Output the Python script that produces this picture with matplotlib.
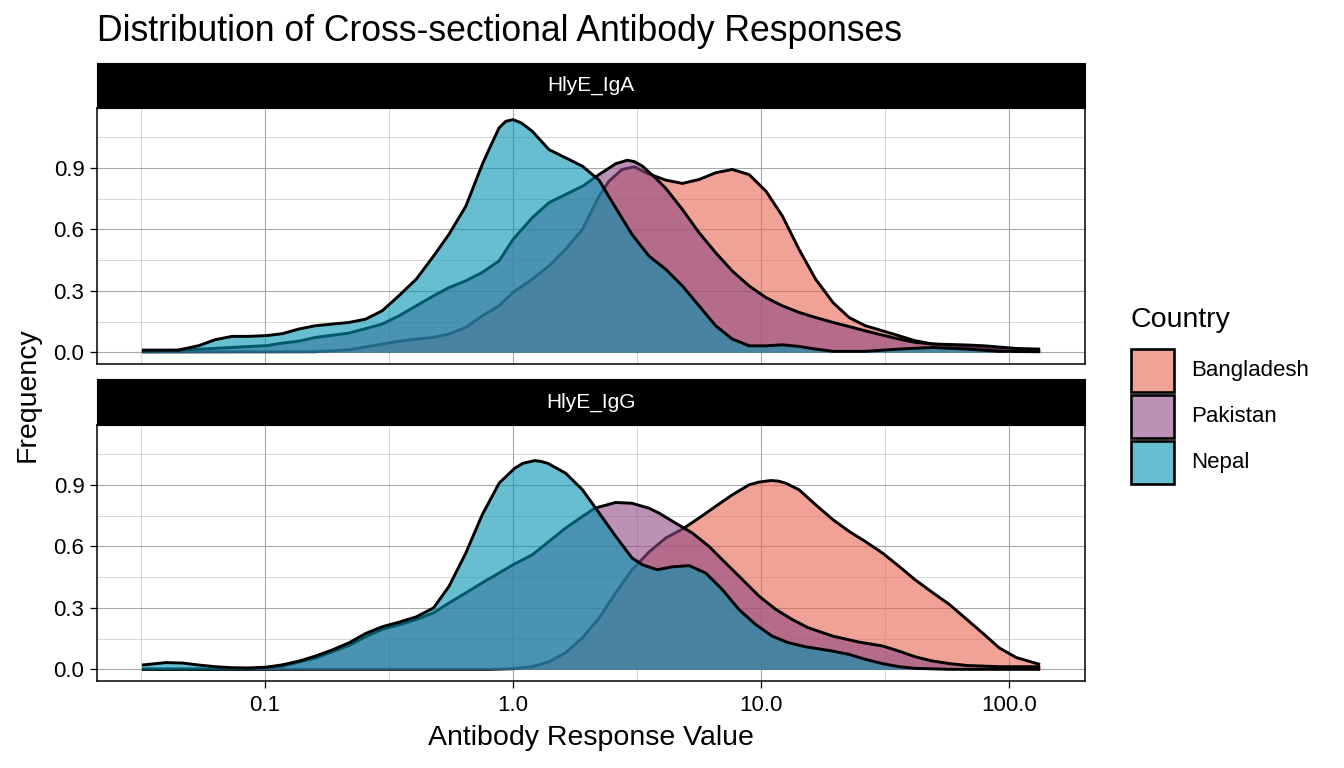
import numpy as np
import matplotlib
matplotlib.use("Agg")
import matplotlib.pyplot as plt
from matplotlib.patches import Rectangle
from matplotlib.ticker import FixedLocator, FixedFormatter, NullFormatter

plt.rcParams['font.family'] = ['Liberation Sans', 'DejaVu Sans']

# ---------------- data ----------------
countries = ["Bangladesh", "Pakistan", "Nepal"]
panels = ["HlyE_IgA", "HlyE_IgG"]
x_tick_values = [0.1, 1.0, 10.0, 100.0]
x_tick_labels = ["0.1", "1.0", "10.0", "100.0"]
y_tick_values = [0.0, 0.3, 0.6, 0.9]
y_tick_labels = ["0.0", "0.3", "0.6", "0.9"]

# HlyE_IgA  (x given as log10 of antibody response value)
iga_bangladesh_log10x = [-1.496, -0.796, -0.661, -0.527, -0.46, -0.39, -0.32, -0.258, -0.19, -0.124,
                         -0.056, 0.0, 0.078, 0.145, 0.212, 0.28, 0.347, 0.387, 0.44, 0.49,
                         0.535, 0.616, 0.683, 0.75, 0.817, 0.884, 0.952, 1.02, 1.086, 1.153,
                         1.22, 1.29, 1.355, 1.42, 1.49, 1.556, 1.62, 1.69, 1.83, 1.96, 2.125]
iga_bangladesh_density = [0.002, 0.003, 0.013, 0.04, 0.054, 0.065, 0.073, 0.089, 0.122, 0.178,
                          0.227, 0.292, 0.357, 0.421, 0.503, 0.6, 0.762, 0.835, 0.892, 0.905,
                          0.876, 0.84, 0.824, 0.843, 0.876, 0.892, 0.867, 0.786, 0.665, 0.503,
                          0.357, 0.243, 0.17, 0.13, 0.105, 0.081, 0.057, 0.041, 0.024, 0.016, 0.011]

iga_pakistan_log10x = [-1.496, -1.35, -1.132, -0.992, -0.93, -0.863, -0.796, -0.661, -0.527, -0.46,
                       -0.39, -0.32, -0.258, -0.19, -0.124, -0.056, 0.0, 0.078, 0.145, 0.212,
                       0.28, 0.347, 0.414, 0.461, 0.49, 0.522, 0.575, 0.616, 0.683, 0.75, 0.817,
                       0.884, 0.952, 1.02, 1.086, 1.153, 1.22, 1.29, 1.355, 1.42, 1.49,
                       1.556, 1.62, 1.69, 1.83, 1.9, 1.96, 2.03, 2.125]
iga_pakistan_density = [0.005, 0.01, 0.024, 0.033, 0.045, 0.055, 0.073, 0.094, 0.138, 0.178,
                        0.227, 0.276, 0.316, 0.349, 0.39, 0.446, 0.551, 0.657, 0.73, 0.77,
                        0.81, 0.867, 0.92, 0.937, 0.93, 0.908, 0.85, 0.80, 0.697, 0.584, 0.486,
                        0.397, 0.324, 0.267, 0.227, 0.195, 0.17, 0.146, 0.126, 0.105, 0.084,
                        0.065, 0.049, 0.041, 0.036, 0.032, 0.026, 0.019, 0.016]

iga_nepal_log10x = [-1.496, -1.35, -1.266, -1.2, -1.132, -1.065, -0.992, -0.93, -0.863, -0.796,
                    -0.661, -0.594, -0.527, -0.46, -0.39, -0.32, -0.258, -0.19, -0.124, -0.097,
                    -0.056, -0.029, 0.0, 0.034, 0.078, 0.145, 0.212, 0.28, 0.347, 0.414, 0.48,
                    0.548, 0.616, 0.683, 0.75, 0.817, 0.884, 0.952, 1.02, 1.086, 1.153,
                    1.22, 1.29, 1.42, 1.556, 1.69, 1.83, 1.96, 2.125]
iga_nepal_density = [0.011, 0.011, 0.033, 0.062, 0.078, 0.078, 0.082, 0.091, 0.114, 0.13,
                     0.146, 0.162, 0.203, 0.276, 0.357, 0.47, 0.576, 0.713, 0.916, 0.989,
                     1.095, 1.127, 1.135, 1.119, 1.078, 0.989, 0.949, 0.908, 0.84, 0.705, 0.575,
                     0.47, 0.405, 0.324, 0.227, 0.13, 0.065, 0.032, 0.032, 0.037, 0.029,
                     0.016, 0.005, 0.005, 0.016, 0.024, 0.016, 0.005, 0.003]

# HlyE_IgG
igg_bangladesh_log10x = [-1.496, -0.1, 0.0, 0.078, 0.145, 0.212, 0.28, 0.347, 0.414, 0.48,
                         0.548, 0.616, 0.683, 0.75, 0.817, 0.884, 0.952, 0.99, 1.04, 1.07, 1.1,
                         1.153, 1.22, 1.29, 1.355, 1.42, 1.49, 1.556, 1.62, 1.69, 1.76, 1.83,
                         1.9, 1.96, 2.03, 2.125]
igg_bangladesh_density = [0.0, 0.0, 0.003, 0.013, 0.037, 0.081, 0.154, 0.25, 0.373, 0.486,
                          0.572, 0.641, 0.684, 0.738, 0.795, 0.851, 0.9, 0.913, 0.921, 0.918, 0.908,
                          0.876, 0.803, 0.73, 0.673, 0.624, 0.567, 0.503, 0.438, 0.376, 0.316, 0.243,
                          0.17, 0.105, 0.057, 0.024]

igg_pakistan_log10x = [-1.496, -1.065, -0.93, -0.796, -0.66, -0.594, -0.527, -0.46, -0.39, -0.32,
                       -0.258, -0.19, -0.124, -0.056, 0.0, 0.078, 0.145, 0.212, 0.28, 0.33,
                       0.414, 0.48, 0.548, 0.589, 0.656, 0.723, 0.79, 0.857, 0.925, 0.992,
                       1.06, 1.126, 1.19, 1.29, 1.395, 1.49, 1.556, 1.62, 1.69, 1.76,
                       1.83, 1.96, 2.125]
igg_pakistan_density = [0.002, 0.002, 0.016, 0.055, 0.117, 0.159, 0.195, 0.217, 0.243, 0.276,
                        0.324, 0.373, 0.422, 0.47, 0.51, 0.559, 0.624, 0.689, 0.746, 0.786,
                        0.814, 0.81, 0.786, 0.762, 0.713, 0.665, 0.6, 0.519, 0.438, 0.357,
                        0.292, 0.243, 0.203, 0.162, 0.133, 0.114, 0.089, 0.062, 0.041, 0.028,
                        0.019, 0.013, 0.013]

igg_nepal_log10x = [-1.496, -1.4, -1.333, -1.266, -1.2, -1.132, -1.065, -0.992, -0.93, -0.863,
                    -0.796, -0.73, -0.66, -0.594, -0.527, -0.46, -0.39, -0.32, -0.258, -0.19,
                    -0.124, -0.056, 0.007, 0.04, 0.087, 0.11, 0.14, 0.212, 0.28, 0.347, 0.414, 0.48,
                    0.522, 0.582, 0.642, 0.71, 0.777, 0.844, 0.911, 0.978, 1.045, 1.11,
                    1.18, 1.29, 1.355, 1.42, 1.49, 1.556, 1.62, 1.76, 2.125]
igg_nepal_density = [0.021, 0.033, 0.031, 0.021, 0.013, 0.008, 0.007, 0.011, 0.022, 0.04,
                     0.065, 0.094, 0.13, 0.175, 0.208, 0.23, 0.256, 0.30, 0.405, 0.568,
                     0.754, 0.908, 0.981, 1.005, 1.018, 1.015, 1.005, 0.957, 0.876, 0.763, 0.649, 0.543,
                     0.51, 0.486, 0.5, 0.506, 0.47, 0.389, 0.292, 0.219, 0.162, 0.13,
                     0.11, 0.089, 0.073, 0.049, 0.028, 0.013, 0.005, 0.0, 0.0]

series = {
    "HlyE_IgA": [(iga_bangladesh_log10x, iga_bangladesh_density),
                 (iga_pakistan_log10x, iga_pakistan_density),
                 (iga_nepal_log10x, iga_nepal_density)],
    "HlyE_IgG": [(igg_bangladesh_log10x, igg_bangladesh_density),
                 (igg_pakistan_log10x, igg_pakistan_density),
                 (igg_nepal_log10x, igg_nepal_density)],
}

# ---------------- style ----------------
fill_colors = ["#E96450", "#8E4985", "#0094B1"]
fill_alpha = 0.6
W, H = 1344, 768
fig = plt.figure(figsize=(W / 100, H / 100), dpi=100)

def fx(px):
    return px / W

def fy(py):
    return 1 - py / H

# shared scales (fixed across facets), ggplot style 5% expansion
all_lx = np.concatenate([np.asarray(a) for p in series.values() for a, _ in p])
all_y = np.concatenate([np.asarray(b) for p in series.values() for _, b in p])
lx_min, lx_max = all_lx.min(), all_lx.max()
lx_pad = 0.05 * (lx_max - lx_min)
y_top = all_y.max()
y_pad = 0.05 * y_top
xlim = (10 ** (lx_min - lx_pad), 10 ** (lx_max + lx_pad))
ylim = (-y_pad, y_top + y_pad)

panel_left, panel_right = 97, 1085
panel_boxes = [(108, 364), (425, 681)]
strip_boxes = [(63, 108), (379, 425)]

axes = []
for i, name in enumerate(panels):
    top, bot = panel_boxes[i]
    ax = fig.add_axes([fx(panel_left), fy(bot), fx(panel_right - panel_left), (bot - top) / H])
    axes.append(ax)
    ax.set_xscale("log")
    ax.set_xlim(*xlim)
    ax.set_ylim(*ylim)
    # grid
    for v in [10 ** -1.5, 10 ** -0.5, 10 ** 0.5, 10 ** 1.5]:
        ax.axvline(v, color="#d6d6d6", lw=0.7, zorder=0)
    for v in [0.15, 0.45, 0.75, 1.05]:
        ax.axhline(v, color="#d6d6d6", lw=0.7, zorder=0)
    for v in x_tick_values:
        ax.axvline(v, color="#a8a8a8", lw=0.8, zorder=0)
    for v in y_tick_values:
        ax.axhline(v, color="#a8a8a8", lw=0.8, zorder=0)

    for (lx, dens), col in zip(series[name], fill_colors):
        xv = 10 ** np.asarray(lx)
        dv = np.asarray(dens)
        ax.fill_between(xv, 0, dv, color=col, alpha=fill_alpha, lw=0, zorder=2)
        ax.plot(xv, dv, color="black", lw=2.1, zorder=2, solid_joinstyle="round",
                solid_capstyle="butt")

    ax.xaxis.set_major_locator(FixedLocator(x_tick_values))
    ax.xaxis.set_minor_locator(FixedLocator([]))
    ax.xaxis.set_minor_formatter(NullFormatter())
    ax.yaxis.set_major_locator(FixedLocator(y_tick_values))
    ax.yaxis.set_major_formatter(FixedFormatter(y_tick_labels))
    if i == len(panels) - 1:
        ax.xaxis.set_major_formatter(FixedFormatter(x_tick_labels))
        ax.tick_params(axis="x", length=5, width=0.9, labelsize=16, pad=5, colors="black")
    else:
        ax.xaxis.set_major_formatter(NullFormatter())
        ax.tick_params(axis="x", length=0)
    ax.tick_params(axis="y", length=5, width=0.9, labelsize=16, pad=4, colors="black")
    for s in ax.spines.values():
        s.set_color("black")
        s.set_linewidth(1.1)

    # strip
    st, sb = strip_boxes[i]
    sax = fig.add_axes([fx(panel_left), fy(sb), fx(panel_right - panel_left), (sb - st) / H])
    sax.set_facecolor("black")
    sax.set_xticks([])
    sax.set_yticks([])
    for s in sax.spines.values():
        s.set_color("black")
    sax.text(0.5, 0.5, name, color="white", fontsize=15, ha="center", va="center",
             transform=sax.transAxes)

# titles
fig.text(fx(97), fy(41), "Distribution of Cross-sectional Antibody Responses",
         fontsize=25.6, ha="left", va="baseline")
fig.text(fx(591), fy(738), "Antibody Response Value", fontsize=20.5, ha="center", va="center")
fig.text(fx(28), fy(395), "Frequency", fontsize=20.5, ha="center", va="center", rotation=90)

# legend
fig.text(fx(1131), fy(320), "Country", fontsize=20.5, ha="left", va="center")
key_tops = [349, 395, 441]
for name, col, kt in zip(countries, fill_colors, key_tops):
    fig.add_artist(Rectangle((fx(1131), fy(kt + 43)), fx(43), 43 / H, transform=fig.transFigure,
                             facecolor=col, alpha=fill_alpha, edgecolor="none"))
    fig.add_artist(Rectangle((fx(1131), fy(kt + 43)), fx(43), 43 / H, transform=fig.transFigure,
                             facecolor="none", edgecolor="black", lw=1.9))
    fig.text(fx(1191), fy(kt + 21.5), name, fontsize=16, ha="left", va="center")

fig.savefig("out.png", dpi=100)
